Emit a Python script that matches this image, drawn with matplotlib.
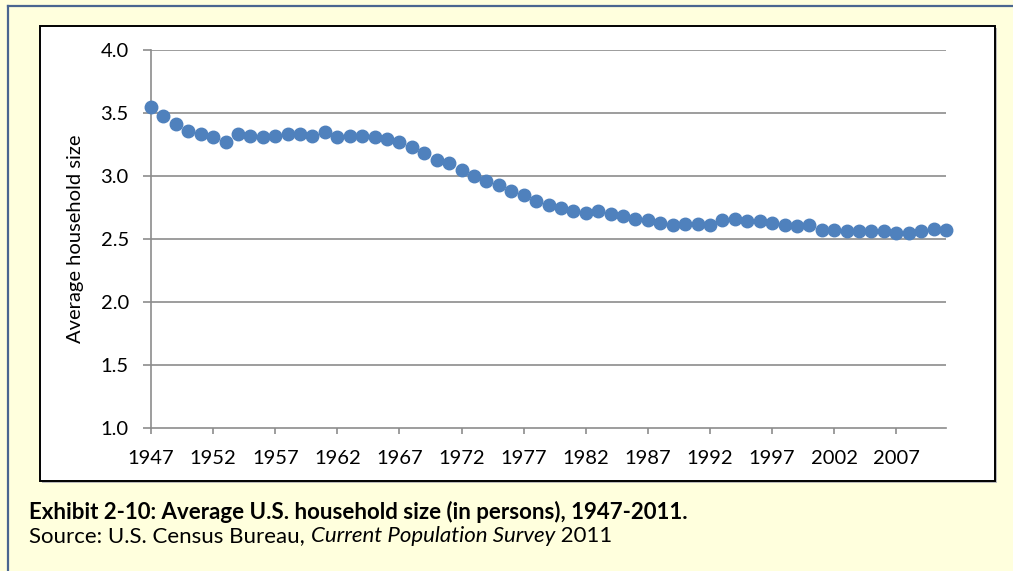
#!/usr/bin/env python3
"""Average U.S. household size, 1947-2011 (exhibit style chart)."""

import matplotlib
matplotlib.use("Agg")
import matplotlib.pyplot as plt
from matplotlib.patches import Rectangle
from matplotlib.lines import Line2D

plt.rcParams["font.family"] = ["Lato", "DejaVu Sans"]

YEARS = list(range(1947, 2012))
HH_SIZE = [
    3.55, 3.48, 3.41, 3.36, 3.33, 3.31, 3.27, 3.33, 3.32, 3.31,   # 1947-1956
    3.32, 3.33, 3.33, 3.32, 3.35, 3.31, 3.32, 3.32, 3.31, 3.29,   # 1957-1966
    3.27, 3.23, 3.18, 3.13, 3.10, 3.05, 3.00, 2.96, 2.93, 2.88,   # 1967-1976
    2.85, 2.80, 2.77, 2.75, 2.72, 2.71, 2.72, 2.70, 2.68, 2.66,   # 1977-1986
    2.65, 2.63, 2.61, 2.62, 2.62, 2.61, 2.65, 2.66, 2.64, 2.64,   # 1987-1996
    2.63, 2.61, 2.60, 2.61, 2.57, 2.57, 2.56, 2.56, 2.56, 2.56,   # 1997-2006
    2.55, 2.55, 2.56, 2.58, 2.57,                                 # 2007-2011
]
X_TICKS = list(range(1947, 2011, 5))
Y_TICKS = [1.0, 1.5, 2.0, 2.5, 3.0, 3.5, 4.0]

CAPTION = "Exhibit 2-10: Average U.S. household size (in persons), 1947-2011."
SOURCE_PARTS = [("Source: U.S. Census Bureau, ", "normal"),
                ("Current Population Survey", "italic"),
                (" 2011", "normal")]

W, H = 1013, 571
BG = "#FFFFDD"
BLUE = "#4F81BD"
GRID = "#8C8C8C"

fig = plt.figure(figsize=(W / 100, H / 100), dpi=100)
fig.patch.set_facecolor(BG)

def fx(px):
    return px / W

def fy(py):
    return 1 - py / H

# outer frame (only top/left visible)
fig.add_artist(Line2D([fx(8), fx(W)], [fy(6), fy(6)], color="#4A6690", lw=1.6))
fig.add_artist(Line2D([fx(8), fx(8)], [fy(6), fy(H)], color="#4A6690", lw=1.6))

# chart box with slight shadow
fig.add_artist(Rectangle((fx(42), fy(483)), fx(995 - 40), (483 - 28) / H,
                         facecolor="#BBBBBB", edgecolor="none", zorder=0))
fig.add_artist(Rectangle((fx(40), fy(481)), fx(995 - 40), (481 - 26) / H,
                         facecolor="white", edgecolor="black", lw=1.4, zorder=1))

ax = fig.add_axes([fx(151), fy(428), fx(946 - 151), (428 - 50) / H])
ax.set_zorder(2)
ax.set_facecolor("none")

ax.plot(YEARS, HH_SIZE, linestyle="none", marker="o", markersize=9,
        color=BLUE, markeredgecolor=BLUE, clip_on=False, zorder=3)

ax.set_xlim(YEARS[0], YEARS[-1])
ax.set_ylim(1.0, 4.0)
ax.set_xticks(X_TICKS)
ax.set_xticklabels([str(y) for y in X_TICKS], fontsize=14.5)
ax.set_yticks(Y_TICKS)
ax.set_yticklabels([f"{v:.1f}" for v in Y_TICKS], fontsize=14.5)
ax.tick_params(axis="y", length=6, width=1.2, color=GRID, pad=10)
ax.tick_params(axis="x", length=4, width=1.2, color=GRID, pad=12)
for y in Y_TICKS[1:]:
    ax.axhline(y, color=GRID, lw=1.2, zorder=1)
for s in ["top", "right"]:
    ax.spines[s].set_visible(False)
for s in ["left", "bottom"]:
    ax.spines[s].set_color(GRID)
    ax.spines[s].set_linewidth(1.2)
ax.set_ylabel("Average household size", fontsize=14.5, labelpad=12)

# caption
fig.text(fx(29), fy(512), CAPTION, fontsize=16, fontweight="bold",
         va="center", ha="left")
renderer = fig.canvas.get_renderer()
x = fx(29)
for txt, style in SOURCE_PARTS:
    t = fig.text(x, fy(536), txt, fontsize=16, style=style,
                 va="center", ha="left")
    bb = t.get_window_extent(renderer=renderer)
    x = bb.x1 / W

fig.savefig("out.png", dpi=100, facecolor=BG)
